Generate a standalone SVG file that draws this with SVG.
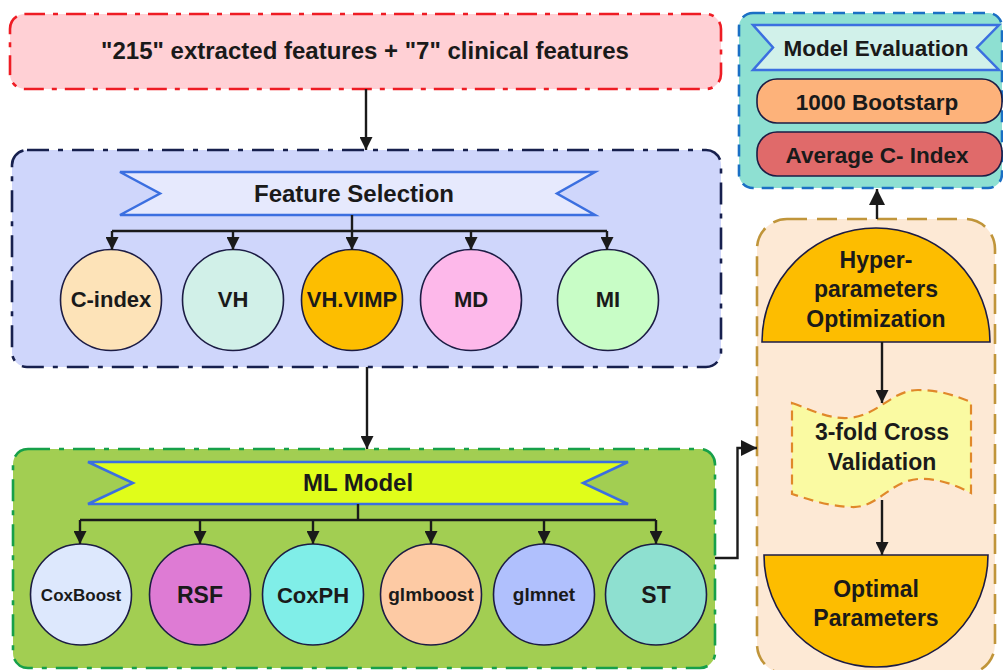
<svg xmlns="http://www.w3.org/2000/svg" width="1003" height="670" viewBox="0 0 1003 670">
  <defs>
    <marker id="arr" viewBox="0 0 10 10" refX="10" refY="5" markerWidth="13" markerHeight="13" orient="auto" markerUnits="userSpaceOnUse">
      <path d="M0,0 L10,5 L0,10 Z" fill="#1a1a1a"/>
    </marker>
    <marker id="arrBig" viewBox="0 0 10 10" refX="10" refY="5" markerWidth="16" markerHeight="16" orient="auto" markerUnits="userSpaceOnUse">
      <path d="M0,0 L10,5 L0,10 Z" fill="#1a1a1a"/>
    </marker>
    <style>
      text { font-family: "Liberation Sans", Arial, sans-serif; font-weight: bold; fill: #1a1a1a; text-anchor: middle; }
      .ribbon { stroke: #3b6fe0; stroke-width: 2.5; stroke-linejoin: miter; }
      .node { stroke: #1c1c44; stroke-width: 1.6; }
      .link { fill: none; stroke: #1a1a1a; stroke-width: 2.4; }
      .frame { stroke-width: 2.6; }
    </style>
  </defs>

  <!-- input features -->
  <g id="input">
    <rect x="10" y="14" width="711" height="75" rx="15" fill="#ffd0d5" stroke="#ee1c24" class="frame" stroke-dasharray="20 8 5 8"/>
    <text x="365" y="59" font-size="24">"215" extracted features + "7" clinical features</text>
  </g>

  <!-- feature selection block -->
  <g id="feature-selection">
    <rect x="12" y="150" width="709" height="217" rx="15" fill="#cfd6fb" stroke="#17204e" class="frame" stroke-dasharray="22 9 5 9"/>
    <path class="ribbon" fill="#e6e9fd" d="M120,172 L595,172 L557,193.5 L595,215 L120,215 L160,193.5 Z"/>
    <text x="354" y="202" font-size="24">Feature Selection</text>
  </g>
  <g id="fs-cindex"><circle class="node" cx="111" cy="300" r="50.5" fill="#fde3b8"/><text x="111" y="307" font-size="22">C-index</text></g>
  <g id="fs-vh"><circle class="node" cx="233" cy="300" r="50.5" fill="#d1f0e8"/><text x="233" y="307" font-size="22">VH</text></g>
  <g id="fs-vhvimp"><circle class="node" cx="352" cy="300" r="50.5" fill="#fdbe00"/><text x="352" y="307" font-size="22">VH.VIMP</text></g>
  <g id="fs-md"><circle class="node" cx="471" cy="300" r="50.5" fill="#fdb8ea"/><text x="471" y="307" font-size="22">MD</text></g>
  <g id="fs-mi"><circle class="node" cx="608" cy="300" r="50.5" fill="#c8fdc6"/><text x="608" y="307" font-size="22">MI</text></g>

  <!-- model block -->
  <g id="ml-model">
    <rect x="13" y="449" width="702" height="219" rx="15" fill="#a2ce52" stroke="#16a04a" class="frame" stroke-dasharray="22 9 5 9"/>
    <path class="ribbon" fill="#e0fd1a" d="M88,462 L628,462 L583,483 L628,504 L88,504 L133,483 Z"/>
    <text x="358" y="491" font-size="24">ML Model</text>
  </g>
  <g id="m-coxboost"><circle class="node" cx="81" cy="594.5" r="50.5" fill="#dde8fd"/><text x="81" y="601" font-size="17">CoxBoost</text></g>
  <g id="m-rsf"><circle class="node" cx="200" cy="594.5" r="50.5" fill="#de7bd4"/><text x="200" y="603" font-size="23">RSF</text></g>
  <g id="m-coxph"><circle class="node" cx="313" cy="594.5" r="50.5" fill="#80eee8"/><text x="313" y="603" font-size="22">CoxPH</text></g>
  <g id="m-glmboost"><circle class="node" cx="431" cy="594.5" r="50.5" fill="#fdcaa4"/><text x="431" y="601" font-size="19">glmboost</text></g>
  <g id="m-glmnet"><circle class="node" cx="544" cy="594.5" r="50.5" fill="#b0c0fd"/><text x="544" y="601" font-size="19">glmnet</text></g>
  <g id="m-st"><circle class="node" cx="656" cy="594.5" r="50.5" fill="#8ee0d0"/><text x="656" y="603" font-size="23">ST</text></g>

  <!-- evaluation block -->
  <g id="evaluation">
    <rect x="739" y="13" width="263" height="175" rx="14" fill="#8ee0d2" stroke="#1a6fc4" class="frame" stroke-dasharray="12 8"/>
    <path class="ribbon" fill="#d1f1ea" d="M753,25 L999,25 L977,47.5 L999,70 L753,70 L773,47.5 Z"/>
    <text x="876" y="56" font-size="22.5">Model Evaluation</text>
  </g>
  <g id="bootstrap">
    <rect class="node" x="757" y="79" width="245" height="44" rx="20" fill="#fdb27a"/>
    <text x="877" y="110" font-size="22.5">1000 Bootstarp</text>
  </g>
  <g id="avg-cindex">
    <rect class="node" x="757" y="132" width="245" height="44" rx="20" fill="#e06a6a"/>
    <text x="877" y="163" font-size="22.5">Average C- Index</text>
  </g>

  <!-- tuning block -->
  <g id="tuning">
    <rect x="757" y="219" width="238" height="455" rx="30" fill="#fde9d5" stroke="#c0953a" class="frame" stroke-dasharray="20 10"/>
  </g>
  <g id="hyperopt">
    <path class="node" d="M762,342 A114,114 0 0 1 990,342 Z" fill="#fdbd00"/>
    <text x="876" y="268" font-size="23">Hyper-</text>
    <text x="876" y="297" font-size="23">parameters</text>
    <text x="876" y="327" font-size="23">Optimization</text>
  </g>
  <g id="cross-validation">
    <path d="M792,403 C812,410 828,419 848,418 C878,416 892,390 918,390 C942,390 958,397 971,402 L971,493 C957,486 940,478 918,479 C890,481 878,508 852,507 C826,506 808,499 792,494 Z" fill="#fafaa2" stroke="#e0882a" stroke-width="2.2" stroke-dasharray="10 6"/>
    <text x="882" y="440" font-size="23">3-fold Cross</text>
    <text x="882" y="470" font-size="23">Validation</text>
  </g>
  <g id="optimal">
    <path class="node" d="M764,555 A112,112 0 0 0 988,555 Z" fill="#fdbd00"/>
    <text x="876" y="597" font-size="23">Optimal</text>
    <text x="876" y="626" font-size="23">Parameters</text>
  </g>

  <!-- connectors -->
  <g id="connectors">
    <line class="link" x1="366" y1="89" x2="366" y2="150" marker-end="url(#arr)"/>
    <path class="link" d="M352,215 V231"/>
    <path class="link" d="M112,231 H607"/>
    <line class="link" x1="112" y1="231" x2="112" y2="250" marker-end="url(#arr)"/>
    <line class="link" x1="233" y1="231" x2="233" y2="250" marker-end="url(#arr)"/>
    <line class="link" x1="352" y1="231" x2="352" y2="250" marker-end="url(#arr)"/>
    <line class="link" x1="471" y1="231" x2="471" y2="250" marker-end="url(#arr)"/>
    <line class="link" x1="607" y1="231" x2="607" y2="250" marker-end="url(#arr)"/>

    <line class="link" x1="367" y1="367" x2="367" y2="449" marker-end="url(#arr)"/>
    <path class="link" d="M358,504 V520"/>
    <path class="link" d="M80,520 H656"/>
    <line class="link" x1="80" y1="520" x2="80" y2="544" marker-end="url(#arr)"/>
    <line class="link" x1="200" y1="520" x2="200" y2="544" marker-end="url(#arr)"/>
    <line class="link" x1="313" y1="520" x2="313" y2="544" marker-end="url(#arr)"/>
    <line class="link" x1="431" y1="520" x2="431" y2="544" marker-end="url(#arr)"/>
    <line class="link" x1="544" y1="520" x2="544" y2="544" marker-end="url(#arr)"/>
    <line class="link" x1="656" y1="520" x2="656" y2="544" marker-end="url(#arr)"/>

    <path class="link" stroke-width="3" d="M715,558 H737.5 V448 H757" marker-end="url(#arrBig)"/>
    <line class="link" x1="882" y1="342" x2="882" y2="403" marker-end="url(#arr)"/>
    <line class="link" x1="882" y1="500" x2="882" y2="555" marker-end="url(#arr)"/>
    <line class="link" stroke-width="3.6" x1="877" y1="219" x2="877" y2="189" marker-end="url(#arrBig)"/>
  </g>
</svg>
